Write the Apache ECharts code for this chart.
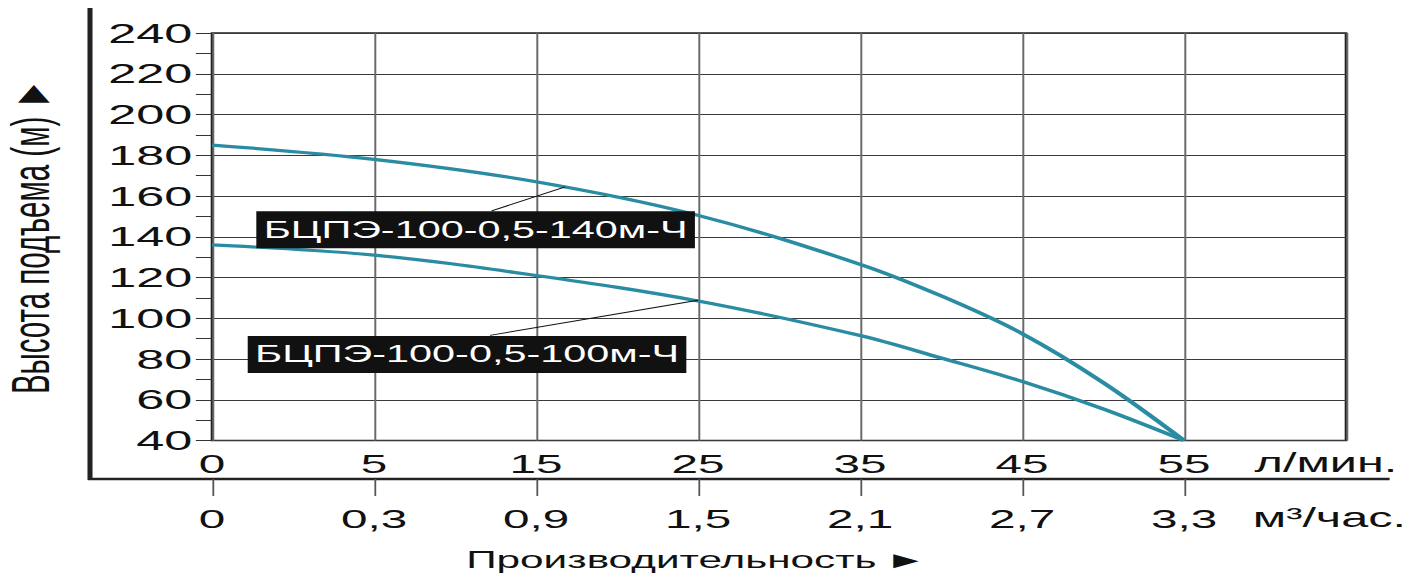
<!DOCTYPE html>
<html><head><meta charset="utf-8">
<script src="https://cdn.jsdelivr.net/npm/echarts@6/dist/echarts.min.js"></script>
<style>
html,body{margin:0;padding:0;background:#fff;overflow:hidden;}
#wrap{width:1413px;height:575px;overflow:hidden;}
#chart{width:785px;height:575px;transform:scaleX(1.8);transform-origin:0 0;}
</style></head><body><div id="wrap"><div id="chart"></div></div>
<script>
// ---- data ----
const flowTicksLmin = [0, 5, 15, 25, 35, 45, 55];
const flowLabelsLmin = ['0', '5', '15', '25', '35', '45', '55'];
const flowLabelsM3 = ['0', '0,3', '0,9', '1,5', '2,1', '2,7', '3,3'];
const headMin = 40, headMax = 240, headStep = 20;

const pump140Flow = [0, 5, 15, 25, 35, 40, 45, 50, 55];
const pump140Head = [185, 178, 167, 150.5, 126.5, 111, 92.5, 68.5, 40];
const pump100Flow = [0, 5, 15, 25, 35, 40, 45, 50, 55];
const pump100Head = [136, 131, 121, 108.5, 91.5, 80.5, 69, 55.5, 40];

const seriesNames = ['БЦПЭ-100-0,5-140м-Ч', 'БЦПЭ-100-0,5-100м-Ч'];
// leader line: point on the curve (flow l/min, head m)
const labelAnchorFlow = [16.8, 25];
const labelAnchorHead = [164.5, 108.8];

const unitLmin = 'л/мин.';
const unitM3 = 'м³/час.';
const xTitle = 'Производительность\u2009►';
const yTitle = 'Высота подъема (м) ►';

// annotation placement (in axis units of the chart)
const annotations = [
  {box: [11.27, 143.4], lineStart: [12.26, 152.7]},
  {box: [10.74, 82.2], lineStart: [12.16, 91.6]}
];

// piecewise axis: each labelled tick occupies one unit
function flowToAxis(q) {
  for (let i = 0; i < flowTicksLmin.length - 1; i++) {
    const a = flowTicksLmin[i], b = flowTicksLmin[i + 1];
    if (q <= b) return i + (q - a) / (b - a);
  }
  return flowTicksLmin.length - 1;
}
const pairs = (fx, hy) => fx.map((f, i) => [flowToAxis(f), hy[i]]);

const FONT = "'Liberation Sans', Arial, sans-serif";
const CURVE = '#2a8ca3';
const axisMax = flowTicksLmin.length; // one empty column on the right
const tickIdx = flowTicksLmin.map((_, i) => i);

function pumpSeries(i, fx, hy) {
  const a = annotations[i];
  return {
    name: seriesNames[i], type: 'line', data: pairs(fx, hy),
    smooth: 0.35, showSymbol: false, lineStyle: {color: CURVE, width: 3.2}, z: 3,
    emphasis: {disabled: true},
    markLine: {
      silent: true, symbol: ['none', 'none'], label: {show: false},
      lineStyle: {color: '#111', width: 1, type: 'solid'},
      emphasis: {disabled: true},
      data: [[{coord: [flowToAxis(a.lineStart[0]), a.lineStart[1]]},
              {coord: [flowToAxis(labelAnchorFlow[i]), labelAnchorHead[i]]}]]
    },
    markPoint: {
      silent: true, symbol: 'circle', symbolSize: 1, itemStyle: {color: 'rgba(0,0,0,0)'},
      z: 6,
      label: {show: true, position: 'inside', formatter: () => seriesNames[i],
              color: '#fff', backgroundColor: '#111', opacity: 1,
              fontSize: 23, fontFamily: FONT, padding: [7, 4, 7, 4]},
      emphasis: {disabled: true},
      data: [{coord: [flowToAxis(a.box[0]), a.box[1]]}]
    }
  };
}

const chart = echarts.init(document.getElementById('chart'), null, {renderer: 'svg'});
chart.setOption({
  animation: false,
  textStyle: {fontFamily: FONT},
  grid: {left: 117.8, right: 785 - 747.8, top: 33, bottom: 134.5, outerBoundsMode: 'none', containLabel: false,
         show: true, borderColor: '#222', borderWidth: 1.5, backgroundColor: 'transparent'},
  title: [
    {text: unitLmin, left: 697, top: 449, padding: 0,
     textStyle: {fontSize: 27, fontWeight: 'normal', color: '#111', fontFamily: FONT}},
    {text: unitM3, left: 696, top: 504, padding: 0,
     textStyle: {fontSize: 27, fontWeight: 'normal', color: '#111', fontFamily: FONT}},
    {text: xTitle, left: 259, top: 548, padding: 0,
     textStyle: {fontSize: 23.5, fontWeight: 'normal', color: '#111', fontFamily: FONT}}
  ],
  xAxis: [
    {type: 'value', min: 0, max: axisMax, interval: 1, position: 'bottom',
     axisLine: {show: false}, axisTick: {show: false},
     axisLabel: {margin: 10, fontSize: 26.5, color: '#111', fontFamily: FONT,
                 formatter: v => flowLabelsLmin[v] ?? ''},
     splitLine: {show: true, lineStyle: {color: '#6a6a6a', width: 1.1}}},
    {type: 'value', min: 0, max: axisMax, interval: 1, position: 'bottom', offset: 38.5,
     axisLine: {show: false},
     axisTick: {show: true, length: 17, customValues: tickIdx, lineStyle: {color: '#555', width: 1}},
     axisLabel: {margin: 26, fontSize: 26.5, color: '#111', fontFamily: FONT, customValues: tickIdx,
                 formatter: v => flowLabelsM3[v] ?? ''},
     splitLine: {show: false}}
  ],
  yAxis: {
    type: 'value', min: headMin, max: headMax, interval: headStep,
    name: yTitle, nameLocation: 'middle', nameRotate: 90, nameGap: 86,
    nameTextStyle: {fontSize: 29.5, color: '#111', fontFamily: FONT},
    axisLine: {show: false},
    axisTick: {show: true, length: 9, lineStyle: {color: '#333', width: 1}},
    minorTick: {show: true, splitNumber: 2, length: 9, lineStyle: {color: '#333', width: 1}},
    axisLabel: {margin: 11, fontSize: 28, color: '#111', fontFamily: FONT},
    splitLine: {show: true, lineStyle: {color: '#3a3a3a', width: 1.2}}
  },
  graphic: [
    {type: 'line', shape: {x1: 50, y1: 8, x2: 50, y2: 480}, style: {stroke: '#222', lineWidth: 2.8}, silent: true},
    {type: 'line', shape: {x1: 49, y1: 479, x2: 772, y2: 479}, style: {stroke: '#222', lineWidth: 2.7}, silent: true}
  ],
  series: [
    pumpSeries(0, pump140Flow, pump140Head),
    pumpSeries(1, pump100Flow, pump100Head)
  ]
});
</script></body></html>
